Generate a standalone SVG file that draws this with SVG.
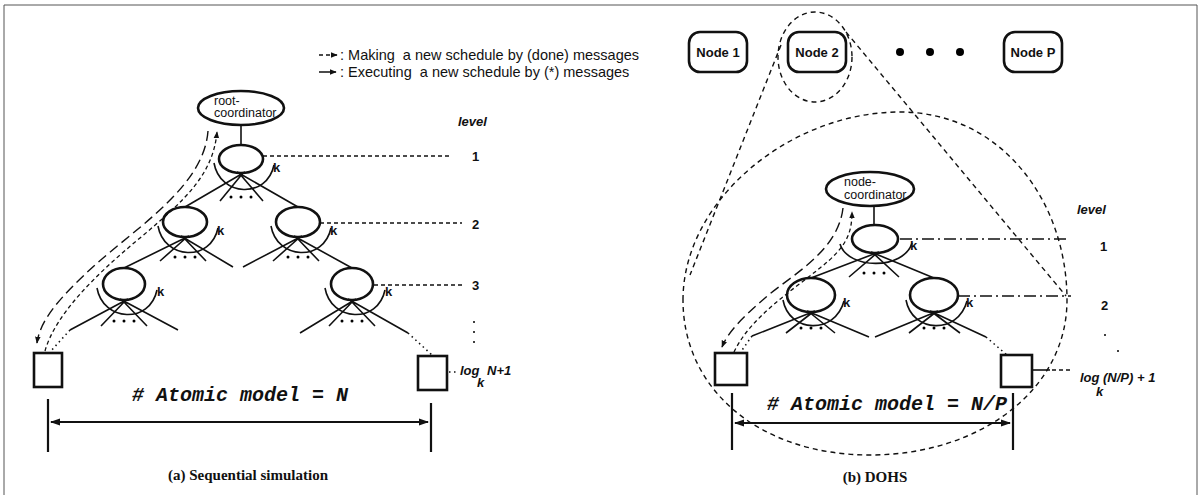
<svg xmlns="http://www.w3.org/2000/svg" width="1202" height="495" viewBox="0 0 1202 495">
<defs>
<marker id="ah" viewBox="0 0 10 10" refX="9" refY="5" markerWidth="7" markerHeight="7" orient="auto-start-reverse" markerUnits="userSpaceOnUse"><path d="M0,1 L10,5 L0,9 Z" fill="#111"/></marker>
<marker id="ahb" viewBox="0 0 10 10" refX="9" refY="5" markerWidth="10" markerHeight="10" orient="auto-start-reverse" markerUnits="userSpaceOnUse"><path d="M0,1.5 L10,5 L0,8.5 Z" fill="#111"/></marker>
</defs>
<style>
.fr{stroke:#555;stroke-width:1;fill:none}
.nd{fill:#fff;stroke:#111;stroke-width:2.6}
.ln{stroke:#111;stroke-width:1.6;fill:none}
.thk{stroke:#111;stroke-width:2.2;fill:none}
.dsh{stroke:#111;stroke-width:1.3;fill:none;stroke-dasharray:4 3}
.ldsh{stroke:#111;stroke-width:1.4;fill:none;stroke-dasharray:10 5}
.dd{stroke:#111;stroke-width:1.3;fill:none;stroke-dasharray:12 4 2 4}
.dot{stroke:#111;stroke-width:1.6;fill:none;stroke-dasharray:1.5 3.5}
.out{stroke:#111;stroke-width:1.4;fill:none;stroke-dasharray:5 4}
.leg{font-family:"Liberation Sans",Arial,sans-serif;font-size:14.5px;fill:#111;white-space:pre}
.sm{font-family:"Liberation Sans",Arial,sans-serif;font-size:12.5px;fill:#111}
.nl{font-family:"Liberation Sans",Arial,sans-serif;font-size:13px;font-weight:bold;fill:#111}
.k{font-family:"Liberation Sans",Arial,sans-serif;font-size:13px;font-weight:bold;fill:#111}
.bi{font-family:"Liberation Sans",Arial,sans-serif;font-size:13px;font-weight:bold;font-style:italic;fill:#111}
.at{font-family:"Liberation Mono","Courier New",monospace;font-size:20px;font-weight:bold;font-style:italic;fill:#111}
.cap{font-family:"Liberation Serif","Times New Roman",serif;font-size:15px;font-weight:bold;fill:#111}
</style>
<rect width="1202" height="495" fill="#fff"/>
<g id="frame"><path class="fr" d="M4,5 L1197,5 M4,5 L4,495 M1197,5 L1197,495"/></g>

<g id="legend">
<path class="dsh" d="M319,55 L337,55" marker-end="url(#ah)"/>
<path class="ln" d="M319,72 L331,72 M333,72 L336,72" marker-end="url(#ah)"/>
<text class="leg" x="340" y="60">: Making  a new schedule by (done) messages</text>
<text class="leg" x="340" y="77">: Executing  a new schedule by (*) messages</text>
</g>

<!-- LEFT PANEL -->
<g id="root-coordinator">
<ellipse class="nd" cx="241" cy="108" rx="43" ry="17"/>
<text class="sm" x="214" y="105">root-</text>
<text class="sm" x="214" y="117">coordinator</text>
</g>
<g id="a-L1">
<ellipse class="nd" cx="241" cy="159" rx="22" ry="14"/>
<path class="ln" d="M214,163 C220,197 267,199 274,165"/>
<text class="k" x="273" y="172">k</text>
<circle cx="231" cy="197" r="1.5"/><circle cx="241" cy="197" r="1.5"/><circle cx="251" cy="197" r="1.5"/>
</g>
<g id="a-L2a">
<ellipse class="nd" cx="185" cy="222" rx="22" ry="15"/>
<path class="ln" d="M158,226 C164,260 211,262 218,228"/>
<text class="k" x="217" y="235">k</text>
<circle cx="175" cy="257" r="1.5"/><circle cx="185" cy="257" r="1.5"/><circle cx="195" cy="257" r="1.5"/>
</g>
<g id="a-L2b">
<ellipse class="nd" cx="298" cy="222" rx="22" ry="15"/>
<path class="ln" d="M271,226 C277,260 324,262 331,228"/>
<text class="k" x="330" y="235">k</text>
<circle cx="288" cy="257" r="1.5"/><circle cx="298" cy="257" r="1.5"/><circle cx="308" cy="257" r="1.5"/>
</g>
<g id="a-L3a">
<ellipse class="nd" cx="124" cy="284" rx="21" ry="16"/>
<path class="ln" d="M97,288 C103,322 150,324 157,290"/>
<text class="k" x="157" y="296">k</text>
<circle cx="114" cy="321" r="1.5"/><circle cx="124" cy="321" r="1.5"/><circle cx="134" cy="321" r="1.5"/>
</g>
<g id="a-L3b">
<ellipse class="nd" cx="352" cy="284" rx="21" ry="16"/>
<path class="ln" d="M325,288 C331,322 378,324 385,290"/>
<text class="k" x="385" y="296">k</text>
<circle cx="342" cy="321" r="1.5"/><circle cx="352" cy="321" r="1.5"/><circle cx="362" cy="321" r="1.5"/>
</g>
<g id="a-leaf1"><rect class="nd" x="34" y="353" width="28" height="34"/></g>
<g id="a-leaf2"><rect class="nd" x="418" y="356" width="29" height="34"/></g>
<g id="a-levels">
<text class="bi" x="458" y="126">level</text>
<text class="nl" x="472" y="161">1</text>
<text class="nl" x="472" y="229">2</text>
<text class="nl" x="472" y="290">3</text>
<circle cx="474" cy="322" r="1"/><circle cx="474" cy="332" r="1"/><circle cx="474" cy="342" r="1"/>
<text class="bi" x="460" y="375">log</text>
<text class="bi" x="477" y="387">k</text>
<text class="bi" x="487" y="375">N+1</text>
</g>
<g id="a-count">
<text class="at" x="240" y="401" text-anchor="middle"># Atomic model = N</text>
<text class="cap" x="248" y="480" text-anchor="middle">(a) Sequential simulation</text>
</g>

<!-- RIGHT PANEL -->
<g id="node1"><rect class="nd" x="689" y="32" width="58" height="40" rx="11"/><text class="nl" x="718" y="57" text-anchor="middle">Node 1</text></g>
<g id="node2"><rect class="nd" x="788" y="32" width="58" height="40" rx="11"/><text class="nl" x="817" y="57" text-anchor="middle">Node 2</text></g>
<g id="nodeP"><rect class="nd" x="1004" y="32" width="58" height="40" rx="11"/><text class="nl" x="1033" y="57" text-anchor="middle">Node P</text></g>
<g id="node-dots"><circle cx="900" cy="52" r="4"/><circle cx="930" cy="52" r="4"/><circle cx="960" cy="52" r="4"/></g>
<g id="zoom-outline">
<ellipse class="out" cx="815" cy="57" rx="37" ry="45"/>
<path class="out" d="M781,45 L690,275 M846,32 L1066,296"/>
<path class="out" d="M683,300 C683,200 790,112 900,112 C1000,112 1067,200 1067,300 C1067,390 980,455 870,455 C760,455 683,390 683,300 Z"/>
</g>
<g id="node-coordinator">
<ellipse class="nd" cx="870" cy="189" rx="44" ry="17"/>
<text class="sm" x="844" y="186">node-</text>
<text class="sm" x="844" y="199">coordinator</text>
</g>
<g id="b-L1">
<ellipse class="nd" cx="875" cy="239" rx="23" ry="14"/>
<path class="ln" d="M840,244 C848,270 904,270 912,243"/>
<text class="k" x="910" y="250">k</text>
<circle cx="864" cy="273" r="1.5"/><circle cx="874" cy="273" r="1.5"/><circle cx="884" cy="273" r="1.5"/>
</g>
<g id="b-L2a">
<ellipse class="nd" cx="811" cy="295" rx="24" ry="17"/>
<path class="ln" d="M783,300 C789,333 835,335 844,301"/>
<text class="k" x="843" y="307">k</text>
<circle cx="801" cy="328" r="1.5"/><circle cx="811" cy="328" r="1.5"/><circle cx="821" cy="328" r="1.5"/>
</g>
<g id="b-L2b">
<ellipse class="nd" cx="934" cy="295" rx="24" ry="17"/>
<path class="ln" d="M906,300 C912,333 958,335 967,301"/>
<text class="k" x="966" y="307">k</text>
<circle cx="924" cy="328" r="1.5"/><circle cx="934" cy="328" r="1.5"/><circle cx="944" cy="328" r="1.5"/>
</g>
<g id="b-leaf1"><rect class="nd" x="715" y="353" width="32" height="32"/></g>
<g id="b-leaf2"><rect class="nd" x="1001" y="355" width="31" height="32"/></g>
<g id="b-levels">
<text class="bi" x="1077" y="214">level</text>
<text class="nl" x="1100" y="251">1</text>
<text class="nl" x="1101" y="310">2</text>
<circle cx="1105" cy="335" r="1"/><circle cx="1118" cy="351" r="1"/>
<text class="bi" x="1080" y="382">log</text>
<text class="bi" x="1096" y="396">k</text>
<text class="bi" x="1103" y="382">(N/P) + 1</text>
</g>
<g id="b-count">
<text class="at" x="887" y="410" text-anchor="middle"># Atomic model = N/P</text>
<text class="cap" x="875" y="482" text-anchor="middle">(b) DOHS</text>
</g>

<g id="connectors">
<path class="ln" d="M241,125 L241,145"/>
<path class="ln" d="M245,172 L185,207 M237,172 L298,207 M243,173 L220,201 M239,173 L263,201"/>
<path class="ln" d="M189,236 L124,268 M181,236 L233,267 M187,237 L160,261 M183,237 L206,261"/>
<path class="ln" d="M302,236 L243,267 M294,236 L352,268 M300,237 L273,261 M296,237 L319,261"/>
<path class="ln" d="M128,299 L70,330 M120,299 L178,330 M126,300 L101,326 M122,300 L147,326"/>
<path class="ln" d="M356,299 L300,333 M348,299 L408,333 M354,300 L329,326 M350,300 L375,326"/>
<path class="dot" d="M70,330 L50,352 M408,333 L432,355 M449,372 L458,372"/>
<path class="dsh" d="M263,156 L450,156 M320,223 L462,223 M374,285 L462,285"/>
<path class="ldsh" d="M208,131 C204,185 140,225 95,265 C60,297 40,320 37,343" marker-end="url(#ah)"/>
<path class="dsh" d="M45,351 C55,315 95,275 140,238 C185,200 213,175 217,132" marker-end="url(#ah)"/>
<path class="thk" d="M48,399 L48,452 M431,403 L431,452"/>
<path class="thk" d="M51,422 L428,422" marker-start="url(#ahb)" marker-end="url(#ahb)"/>
<path class="ln" d="M874,206 L874,225"/>
<path class="ln" d="M879,252 L811,278 M871,252 L934,278 M877,253 L849,277 M873,253 L899,277"/>
<path class="ln" d="M815,311 L752,336 M807,311 L869,337 M813,312 L786,333 M809,312 L835,333"/>
<path class="ln" d="M938,311 L875,337 M930,311 L986,337 M936,312 L909,333 M932,312 L960,333"/>
<path class="dot" d="M752,336 L740,353 M986,337 L1007,355"/>
<path class="dd" d="M900,239 L1070,239 M958,296 L1071,296"/>
<path class="ln" d="M1032,370 L1050,370"/>
<path class="dsh" d="M1052,370 L1072,370"/>
<path class="ldsh" d="M843,208 C838,252 790,276 765,298 C742,318 728,332 722,347" marker-end="url(#ah)"/>
<path class="dsh" d="M734,352 C750,318 790,292 820,268 C845,248 852,235 852,212" marker-end="url(#ah)"/>
<path class="thk" d="M732,393 L732,450 M1013,393 L1013,450"/>
<path class="thk" d="M735,423 L1010,423" marker-start="url(#ahb)" marker-end="url(#ahb)"/>
</g>
</svg>
